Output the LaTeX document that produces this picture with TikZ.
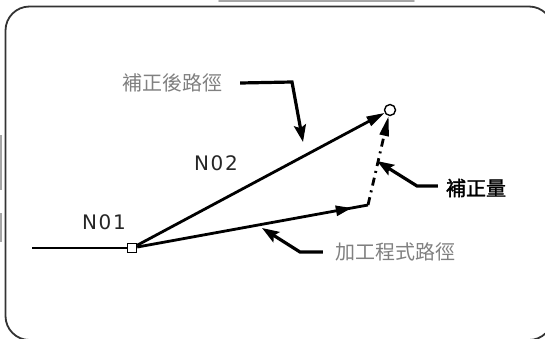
\documentclass[tikz,border=0pt]{standalone}
\usepackage{fontspec}
\newfontfamily\cjk{Noto Sans CJK TC}
\newfontfamily\cjkb[FakeBold=1.6]{Noto Sans CJK TC}
\newfontfamily\lab[LetterSpace=8]{DejaVu Sans}
\usetikzlibrary{arrows.meta,decorations.markings}
\begin{document}
\begin{tikzpicture}[x=1pt,y=-1pt,
  frame/.style={draw=black!80,line width=1.8pt,rounded corners=24pt},
  mainline/.style={draw=black,line width=2.8pt},
  leader/.style={draw=black,line width=3.2pt,line join=miter,-{Stealth[length=17pt,width=12pt,inset=3pt]}},
  greytext/.style={text=black!50,font=\cjk\fontsize{20}{20}\selectfont,inner sep=0pt},
  blacktext/.style={text=black,font=\cjkb\fontsize{20}{20}\selectfont,inner sep=0pt},
  nlabel/.style={text=black!85,font=\lab\fontsize{20}{20}\selectfont,inner sep=0pt},
  sqpt/.style={draw=black,fill=white,line width=1.4pt,minimum size=9pt,inner sep=0pt},
  cipt/.style={draw=black,fill=white,line width=1.4pt,circle,minimum size=11pt,inner sep=0pt},
  artifact/.style={draw=black!35,line width=1.8pt}
]
\useasboundingbox (0,0) rectangle (545,338);
\begin{scope}
\clip (0,0) rectangle (545,338);
\draw[frame] (5.5,6.5) rectangle (553,340);
\draw[artifact,line cap=round] (219,0.8) -- (414,0.8);
\draw[artifact] (0.8,135) -- (0.8,190);
\draw[artifact] (0.8,213) -- (0.8,242);
\end{scope}

% points
\coordinate (lead) at (32,248);
\node[sqpt] (p0) at (132,248) {};
\coordinate (p1) at (368,205);
\node[cipt] (p2) at (390,110) {};

% lead-in line
\draw[black,line width=1.4pt] (lead) -- (p0.west);

% corrected path
\draw[mainline,-{Triangle[length=18pt,width=10pt]}] (p0) -- (p2);

% programmed path
\draw[mainline,postaction={decorate},
  decoration={markings,mark=at position 0.93 with {\arrow{Triangle[length=16pt,width=10pt]}}}]
  (p0) -- (p1);

% compensation amount (dash-dot)
\draw[mainline,dash pattern=on 8pt off 5pt on 2pt off 5pt,-{Triangle[length=20pt,width=9pt]}] (p1) -- (p2);

% labels
\node[nlabel] (n01) at (104,222) {N01};
\node[nlabel] (n02) at (216,163) {N02};

\node[greytext] (l1) at (172,83) {補正後路徑};
\node[blacktext] (l2) at (476,188) {補正量};
\node[greytext] (l3) at (395,252) {加工程式路徑};

% leaders
\coordinate (a1) at (292,82);
\coordinate (t1) at (303,142);
\draw[leader] (l1.east) ++(18,0) coordinate (s1) (s1) -- (a1) -- (t1);

\coordinate (a2) at (417,186);
\coordinate (t2) at (377,161);
\draw[leader] (l2.west) ++(-8,-2) coordinate (s2) (s2) -- (a2) -- (t2);

\coordinate (a3) at (300,252);
\coordinate (t3) at (262,228);
\draw[leader] (l3.west) ++(-12,0) coordinate (s3) (s3) -- (a3) -- (t3);
\end{tikzpicture}
\end{document}
